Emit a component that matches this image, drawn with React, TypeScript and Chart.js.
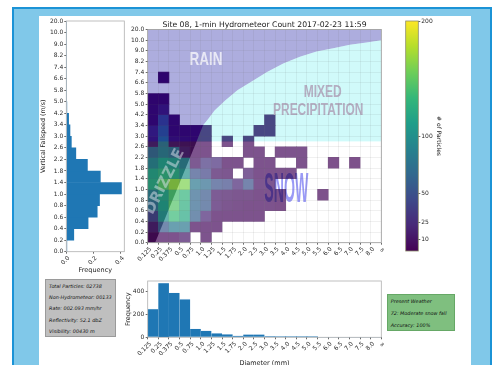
import React, { useEffect, useRef } from 'react';
import { Chart, registerables } from 'chart.js';

Chart.register(...registerables);

const FONT = '"DejaVu Sans", sans-serif';

// ---------------- data ----------------
const speedLabels = ['0.0', '0.2', '0.4', '0.6', '0.8', '1.0', '1.4', '1.8', '2.2', '2.6', '3.0', '3.4', '4.2', '5.0', '5.8', '6.6', '7.4', '8.2', '9.0', '10.0', '20.0'];
const diameterLabels = ['0.125', '0.25', '0.375', '0.5', '0.75', '1.0', '1.25', '1.5', '1.75', '2.0', '2.5', '3.0', '3.5', '4.0', '4.5', '5.0', '5.5', '6.0', '6.5', '7.0', '7.5', '8.0', '\u221E'];

// normalised frequency per fall-speed bin (bottom -> top)
const fallspeedFrequency = [0.004, 0.055, 0.16, 0.227, 0.244, 0.405, 0.25, 0.155, 0.07, 0.037, 0.027, 0.017, 0.004, 0, 0, 0, 0, 0, 0, 0];

// particle count per diameter bin
const diameterCounts = [246, 472, 388, 332, 74, 58, 35, 26, 14, 25, 25, 9, 4, 3, 2, 1, 0, 0, 0, 0, 0, 0];

// particle counts: rows = fall-speed bins (bottom -> top), columns = diameter bins
const particleCounts: number[][] = [
  [3, 5, 5, 12, 0, 5, 0, 0, 0, 0, 0, 0, 0, 0, 0, 0, 0, 0, 0, 0, 0, 0],
  [15, 55, 80, 80, 5, 5, 5, 0, 0, 0, 0, 0, 0, 0, 0, 0, 0, 0, 0, 0, 0, 0],
  [40, 100, 135, 120, 60, 20, 5, 5, 5, 5, 5, 0, 0, 0, 0, 0, 0, 0, 0, 0, 0, 0],
  [70, 110, 145, 125, 65, 55, 12, 8, 6, 5, 5, 5, 3, 0, 0, 0, 0, 0, 0, 0, 0, 0],
  [85, 115, 140, 130, 65, 55, 12, 10, 8, 8, 5, 5, 4, 0, 0, 0, 3, 0, 0, 0, 0, 0],
  [120, 145, 165, 160, 80, 70, 50, 45, 20, 50, 8, 8, 0, 0, 0, 0, 0, 0, 0, 0, 0, 0],
  [115, 125, 120, 100, 50, 40, 10, 8, 0, 15, 5, 5, 5, 5, 0, 0, 0, 0, 0, 0, 0, 0],
  [90, 110, 105, 85, 10, 30, 25, 5, 5, 0, 5, 5, 0, 0, 5, 0, 0, 3, 0, 3, 0, 0],
  [65, 80, 70, 15, 5, 5, 0, 0, 0, 5, 5, 0, 5, 5, 5, 0, 0, 0, 0, 0, 0, 0],
  [15, 75, 10, 8, 5, 5, 0, 5, 0, 5, 0, 0, 0, 0, 0, 0, 0, 0, 0, 0, 0, 0],
  [20, 60, 5, 5, 5, 5, 0, 0, 0, 0, 5, 5, 0, 0, 0, 0, 0, 0, 0, 0, 0, 0],
  [5, 45, 5, 0, 0, 0, 0, 0, 0, 0, 0, 5, 0, 0, 0, 0, 0, 0, 0, 0, 0, 0],
  [5, 15, 0, 0, 0, 0, 0, 0, 0, 0, 0, 0, 0, 0, 0, 0, 0, 0, 0, 0, 0, 0],
  [3, 3, 0, 0, 0, 0, 0, 0, 0, 0, 0, 0, 0, 0, 0, 0, 0, 0, 0, 0, 0, 0],
  [0, 0, 0, 0, 0, 0, 0, 0, 0, 0, 0, 0, 0, 0, 0, 0, 0, 0, 0, 0, 0, 0],
  [0, 3, 0, 0, 0, 0, 0, 0, 0, 0, 0, 0, 0, 0, 0, 0, 0, 0, 0, 0, 0, 0],
  [0, 0, 0, 0, 0, 0, 0, 0, 0, 0, 0, 0, 0, 0, 0, 0, 0, 0, 0, 0, 0, 0],
  [0, 0, 0, 0, 0, 0, 0, 0, 0, 0, 0, 0, 0, 0, 0, 0, 0, 0, 0, 0, 0, 0],
  [0, 0, 0, 0, 0, 0, 0, 0, 0, 0, 0, 0, 0, 0, 0, 0, 0, 0, 0, 0, 0, 0],
  [0, 0, 0, 0, 0, 0, 0, 0, 0, 0, 0, 0, 0, 0, 0, 0, 0, 0, 0, 0, 0, 0],
];

const colorbarTicks = [10, 25, 50, 100, 200];
const colorbarMax = 200;

// precipitation-type boundaries, in bin units (x: diameter bin, y: fall-speed bin)
const rainCurveX = [5.2, 5.7, 6.3, 7.3, 8.45, 10.1, 11.2, 12.77, 14.34, 15.91, 17.48, 19.05, 20.62, 22];
const rainCurveY = [11.0, 11.6, 12.4, 13.35, 14.3, 15.3, 16.0, 16.8, 17.45, 17.93, 18.25, 18.56, 18.78, 19.0];
const drizzleEdgeX = [0.69, 4.6];
const snowTopY = 9.5;

const infoLines = ['Total Particles: 02738', 'Non-Hydrometeor: 00133', 'Rate: 002.093 mm/hr', 'Reflectivity: 52.1 dbZ', 'Visibility: 00430 m'];
const weatherLines = ['Present Weather', '72: Moderate snow fall', 'Accuracy: 100%'];

// ---------------- helpers ----------------
const VIRIDIS = ['#440154', '#482878', '#3e4989', '#31688e', '#26828e', '#1f9e89', '#35b779', '#6ece58', '#b5de2b', '#fde725'];
const hexRgb = (h: string) => [1, 3, 5].map((i) => parseInt(h.slice(i, i + 2), 16));
function viridis(t: number) {
  const n = VIRIDIS.length - 1;
  const f = Math.max(0, Math.min(1, t)) * n;
  const i = Math.min(Math.floor(f), n - 1);
  const u = f - i;
  const a = hexRgb(VIRIDIS[i]);
  const b = hexRgb(VIRIDIS[i + 1]);
  const c = a.map((v, k) => Math.round(v + (b[k] - v) * u));
  return `rgb(${c[0]},${c[1]},${c[2]})`;
}

const tickFont = { family: FONT, size: 6 };
const TICK_COLOR = '#2a2a2a';
const plainGrid = { drawOnChartArea: false, tickLength: 2, tickColor: '#444', tickWidth: 0.8, offset: false };

const framePlugin = {
  id: 'frame',
  afterDraw(chart: any, _a: any, opts: any) {
    const a = chart.chartArea;
    const ctx = chart.ctx;
    ctx.save();
    ctx.strokeStyle = opts.color || '#999';
    ctx.lineWidth = opts.width || 0.8;
    ctx.strokeRect(a.left, a.top, a.right - a.left, a.bottom - a.top);
    ctx.restore();
  },
};

const regionPlugin = {
  id: 'regions',
  afterDatasetsDraw(chart: any) {
    const { ctx, chartArea: a, scales } = chart;
    const xs = scales.x;
    const ys = scales.y;
    const P = (p: number[]) => [xs.getPixelForValue(p[0]), ys.getPixelForValue(p[1])];
    ctx.save();
    ctx.beginPath();
    ctx.rect(a.left, a.top, a.right - a.left, a.bottom - a.top);
    ctx.clip();
    const poly = (pts: number[][], fill: string) => {
      ctx.beginPath();
      pts.forEach((p, i) => {
        const [X, Y] = P(p);
        if (i) ctx.lineTo(X, Y);
        else ctx.moveTo(X, Y);
      });
      ctx.closePath();
      ctx.fillStyle = fill;
      ctx.fill();
    };
    const xMax = diameterLabels.length - 1;
    const yMax = speedLabels.length - 1;
    const curve = rainCurveX.map((vx, i) => [vx, rainCurveY[i]]);
    const d0 = [drizzleEdgeX[0], 0];
    const d1 = [drizzleEdgeX[1], snowTopY];
    poly([[0, yMax], [xMax, yMax], ...curve.slice().reverse(), d1, [0, snowTopY]], 'rgba(0,0,153,0.32)');
    poly([d1, ...curve, [xMax, snowTopY]], 'rgba(80,235,235,0.27)');
    poly([d0, [xMax, 0], [xMax, snowTopY], d1], 'rgba(255,255,255,0.3)');
    poly([[0, 0], d0, d1, [0, snowTopY]], 'rgba(30,30,30,0.2)');

    const text = (t: string, p: number[], font: string, color: string, sx = 1, rot = 0, comp?: string) => {
      const [X, Y] = P(p);
      ctx.save();
      ctx.translate(X, Y);
      ctx.rotate(rot);
      ctx.scale(sx, 1);
      ctx.font = font;
      ctx.fillStyle = color;
      ctx.textAlign = 'center';
      ctx.textBaseline = 'middle';
      if (comp) ctx.globalCompositeOperation = comp;
      ctx.fillText(t, 0, 0);
      ctx.restore();
    };
    text('RAIN', [5.49, 17.15], 'bold 18px "Liberation Sans"', 'rgba(255,255,255,0.72)', 0.75);
    text('MIXED', [16.48, 14.08], 'bold 16px "Liberation Sans"', '#b4aec2', 0.75);
    text('PRECIPITATION', [16.06, 12.39], 'bold 16px "Liberation Sans"', '#b4aec2', 0.745);
    text('SNOW', [13.05, 4.95], 'bold 42px "Liberation Sans"', '#9a9af6', 0.337, 0, 'multiply');
    text('DRIZZLE', [1.63, 5.73], 'bold 15px "DejaVu Sans"', 'rgba(225,230,240,0.5)', 1, (-63.4 * Math.PI) / 180);
    ctx.restore();
  },
};

const fixedTicks = (values: number[]) => (s: any) => {
  s.ticks = values.map((v) => ({ value: v }));
};

// ---------------- chart configs ----------------
function mainConfig(): any {
  const cells: any[] = [];
  particleCounts.forEach((row, r) =>
    row.forEach((v, c) => {
      if (v > 0) cells.push({ x: c + 0.5, y: [r, r + 1], v });
    })
  );
  const innerGrid = { color: 'rgba(100,100,100,0.16)', lineWidth: 0.6, tickLength: 2, tickColor: '#444', tickWidth: 0.8, offset: false, z: 1 };
  return {
    type: 'bar',
    data: {
      datasets: [
        {
          data: cells,
          backgroundColor: (c: any) => (c.raw ? viridis(c.raw.v / colorbarMax) : '#440154'),
          borderWidth: 0,
          barPercentage: 1,
          categoryPercentage: 1,
          grouped: false,
        },
      ],
    },
    options: {
      animation: false,
      responsive: false,
      devicePixelRatio: 1,
      layout: { padding: { left: 0, right: 8.7, top: 0, bottom: 0 } },
      plugins: {
        legend: { display: false },
        tooltip: { enabled: false },
        title: {
          display: true,
          text: 'Site 08, 1-min Hydrometeor Count 2017-02-23 11:59',
          font: { family: FONT, size: 7.7, weight: 'normal' },
          color: '#1a1a1a',
          padding: { top: 10.26, bottom: 0 },
          fullSize: false,
        },
        frame: { color: '#9a9a9a' },
      },
      scales: {
        x: {
          type: 'linear',
          min: 0,
          max: diameterLabels.length - 1,
          offset: false,
          afterBuildTicks: fixedTicks(diameterLabels.map((_, i) => i)),
          ticks: { callback: (v: number) => diameterLabels[Math.round(v)], autoSkip: false, minRotation: 45, maxRotation: 45, font: tickFont, color: TICK_COLOR, padding: 1, labelOffset: 3 },
          grid: innerGrid,
          border: { display: false },
          afterFit: (s: any) => { s.height = 32.3; },
        },
        y: {
          type: 'linear',
          min: 0,
          max: speedLabels.length - 1,
          afterBuildTicks: fixedTicks(speedLabels.map((_, i) => i)),
          ticks: { callback: (v: number) => speedLabels[Math.round(v)], autoSkip: false, font: tickFont, color: TICK_COLOR, padding: 1.4 },
          grid: innerGrid,
          border: { display: false },
          afterFit: (s: any) => { s.width = 47.7; },
        },
      },
    },
    plugins: [regionPlugin, framePlugin],
  };
}

function leftConfig(): any {
  return {
    type: 'bar',
    data: {
      datasets: [
        {
          data: fallspeedFrequency.map((f, i) => ({ x: f, y: i + 0.5 })),
          backgroundColor: '#1f77b4',
          borderWidth: 0,
          barPercentage: 1,
          categoryPercentage: 1,
        },
      ],
    },
    options: {
      indexAxis: 'y',
      animation: false,
      responsive: false,
      devicePixelRatio: 1,
      layout: { padding: { left: 0, right: 5.7, top: 11, bottom: 0 } },
      plugins: { legend: { display: false }, tooltip: { enabled: false }, frame: { color: '#b0b0b0' } },
      scales: {
        y: {
          type: 'linear',
          min: 0,
          max: speedLabels.length - 1,
          offset: false,
          afterBuildTicks: fixedTicks(speedLabels.map((_, i) => i)),
          ticks: { callback: (v: number) => speedLabels[Math.round(v)], autoSkip: false, font: tickFont, color: TICK_COLOR, padding: 1 },
          grid: plainGrid,
          border: { display: false },
          title: { display: true, text: 'Vertical Fallspeed (m/s)', font: { family: FONT, size: 6.3 }, color: '#1a1a1a', padding: { top: 9.4, bottom: 0 } },
          afterFit: (s: any) => { s.width = 36.3; },
        },
        x: {
          type: 'linear',
          min: 0,
          max: 0.426,
          afterBuildTicks: fixedTicks([0, 0.2, 0.4]),
          ticks: { callback: (v: number) => v.toFixed(1), minRotation: 45, maxRotation: 45, font: tickFont, color: TICK_COLOR, padding: 1, labelOffset: 2.5 },
          grid: plainGrid,
          border: { display: false },
          title: { display: true, text: 'Frequency', font: { family: FONT, size: 6.5 }, color: '#1a1a1a', padding: { top: 0, bottom: 1.1 } },
          afterFit: (s: any) => { s.height = 23.3; },
        },
      },
    },
    plugins: [framePlugin],
  };
}

function bottomConfig(): any {
  return {
    type: 'bar',
    data: {
      datasets: [
        {
          data: diameterCounts.map((v, i) => ({ x: i + 0.5, y: v })),
          backgroundColor: '#1f77b4',
          borderColor: 'rgba(200,220,240,0.6)',
          borderWidth: { top: 0.6, left: 0, right: 0, bottom: 0 },
          barPercentage: 1,
          categoryPercentage: 1,
        },
      ],
    },
    options: {
      animation: false,
      responsive: false,
      devicePixelRatio: 1,
      layout: { padding: { left: 0, right: 8.7, top: 6, bottom: 0 } },
      plugins: { legend: { display: false }, tooltip: { enabled: false }, frame: { color: '#b0b0b0' } },
      scales: {
        x: {
          type: 'linear',
          min: 0,
          max: diameterLabels.length - 1,
          offset: false,
          afterBuildTicks: fixedTicks(diameterLabels.map((_, i) => i)),
          ticks: { callback: (v: number) => diameterLabels[Math.round(v)], autoSkip: false, minRotation: 45, maxRotation: 45, font: tickFont, color: TICK_COLOR, padding: 1, labelOffset: 3 },
          grid: plainGrid,
          border: { display: false },
          title: { display: true, text: 'Diameter (mm)', font: { family: FONT, size: 6.5 }, color: '#1a1a1a', padding: { top: 0, bottom: 2.8 } },
          afterFit: (s: any) => { s.height = 32.7; },
        },
        y: {
          type: 'linear',
          min: 0,
          max: 490,
          afterBuildTicks: fixedTicks([0, 200, 400]),
          ticks: { font: tickFont, color: TICK_COLOR, padding: 1.4 },
          grid: plainGrid,
          border: { display: false },
          title: { display: true, text: 'Frequency', font: { family: FONT, size: 6.5 }, color: '#1a1a1a', padding: { top: 24.4, bottom: 0 } },
          afterFit: (s: any) => { s.width = 47.7; },
        },
      },
    },
    plugins: [framePlugin],
  };
}

function colorbarConfig(): any {
  return {
    type: 'bar',
    data: {
      labels: [''],
      datasets: [
        {
          data: [[0, colorbarMax]],
          backgroundColor: (c: any) => {
            const ch = c.chart;
            const ys = ch.scales && ch.scales.y;
            if (!ys || !ch.chartArea) return '#21908d';
            const g = ch.ctx.createLinearGradient(0, ys.getPixelForValue(0), 0, ys.getPixelForValue(colorbarMax));
            VIRIDIS.forEach((col, k) => g.addColorStop(k / (VIRIDIS.length - 1), col));
            return g;
          },
          borderWidth: 0,
          barPercentage: 1,
          categoryPercentage: 1,
        },
      ],
    },
    options: {
      animation: false,
      responsive: false,
      devicePixelRatio: 1,
      layout: { padding: { left: 10.7, right: 0, top: 11, bottom: 14 } },
      plugins: { legend: { display: false }, tooltip: { enabled: false }, frame: { color: '#8a8a6a' } },
      scales: {
        x: { display: false },
        y: {
          position: 'right',
          min: 0,
          max: colorbarMax,
          afterBuildTicks: fixedTicks(colorbarTicks),
          ticks: { font: tickFont, color: TICK_COLOR, padding: 1 },
          grid: plainGrid,
          border: { display: false },
          title: { display: true, text: '# of Particles', font: { family: FONT, size: 6 }, color: '#1a1a1a', padding: { top: 28.1, bottom: 0 } },
          afterFit: (s: any) => { s.width = 51.7; },
        },
      },
    },
    plugins: [framePlugin],
  };
}

// ---------------- components ----------------
function ChartCanvas({ left, top, width, height, make }: { left: number; top: number; width: number; height: number; make: () => any }) {
  const ref = useRef<HTMLCanvasElement>(null);
  useEffect(() => {
    const chart = new Chart(ref.current as HTMLCanvasElement, make());
    return () => chart.destroy();
  }, []);
  return <canvas ref={ref} width={width} height={height} style={{ position: 'absolute', left, top, width, height }} />;
}

function TextBox({ left, top, width, height, bg, border, lines, centers }: any) {
  return (
    <div style={{ position: 'absolute', left, top, width, height, background: bg, border: `1px solid ${border}`, boxSizing: 'border-box' }}>
      {lines.map((t: string, i: number) => (
        <div
          key={i}
          style={{
            position: 'absolute',
            left: 3,
            top: centers[i] - top - 3,
            height: 6,
            lineHeight: '6px',
            fontSize: 4.9,
            fontStyle: 'italic',
            fontFamily: FONT,
            color: '#111',
            whiteSpace: 'nowrap',
          }}
        >
          {t}
        </div>
      ))}
    </div>
  );
}

export default function App() {
  return (
    <div style={{ position: 'absolute', left: 0, top: 0, width: 495, height: 365, overflow: 'hidden', background: '#ffffff' }}>
      <div style={{ position: 'absolute', left: 12, top: 7, width: 480, height: 380, background: '#80c8e9', borderLeft: '2px solid #1b93d6', borderTop: '2px solid #1b93d6', borderRight: '2px solid #1b93d6', boxSizing: 'border-box' }} />
      <div style={{ position: 'absolute', left: 39, top: 16, width: 432, height: 360, background: '#ffffff' }} />
      <ChartCanvas left={30} top={10} width={100} height={265} make={leftConfig} />
      <ChartCanvas left={100} top={10} width={290} height={265} make={mainConfig} />
      <ChartCanvas left={395} top={10} width={75} height={255} make={colorbarConfig} />
      <ChartCanvas left={100} top={275} width={290} height={95} make={bottomConfig} />
      <TextBox left={45} top={279.3} width={71} height={57.4} bg="#bfbfbf" border="#9a9a9a" lines={infoLines} centers={[284.7, 296, 307.3, 318.7, 330]} />
      <TextBox left={386.7} top={294.3} width={68.6} height={36.7} bg="#7fbf7f" border="#66a866" lines={weatherLines} centers={[300.3, 312, 324]} />
    </div>
  );
}
